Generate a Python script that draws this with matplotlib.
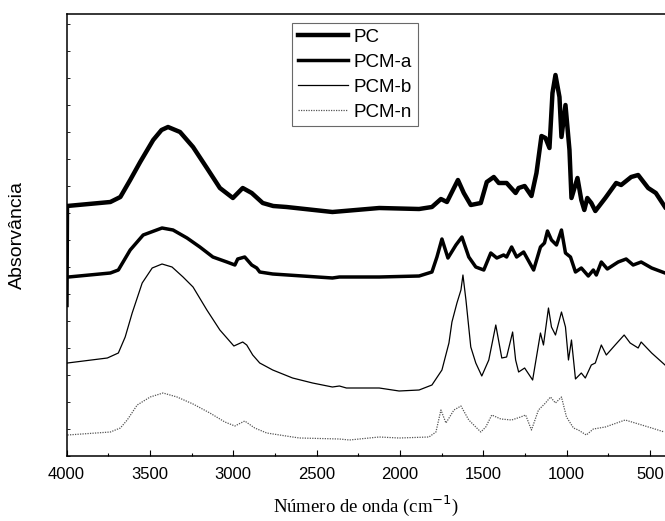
import numpy as np
import matplotlib
matplotlib.use("Agg")
import matplotlib.pyplot as plt
from matplotlib.ticker import MultipleLocator, NullFormatter

# wavenumbers (cm-1) and absorbance (arbitrary units, stacked as in the picture)
pc_wn = [4000, 3997, 3737, 3677, 3618, 3558, 3480, 3430, 3391, 3319, 3241, 3158, 3080, 3002,
         2943, 2889, 2823, 2760, 2680, 2405, 2124, 1885, 1808, 1754, 1718, 1652, 1617, 1575,
         1515, 1479, 1437, 1407, 1360, 1306, 1288, 1252, 1211, 1181, 1151, 1127, 1103,
         1085, 1067, 1043, 1031, 1007, 983, 971, 935, 912, 894, 876, 852, 828, 768, 703,
         673, 613, 571, 511, 465, 410]
pc_abs = [1.51, 2.50, 2.54, 2.59, 2.76, 2.94, 3.16, 3.26, 3.29, 3.24, 3.09, 2.88, 2.68, 2.58,
          2.68, 2.63, 2.53, 2.50, 2.49, 2.44, 2.48, 2.47, 2.49, 2.57, 2.54, 2.76, 2.63, 2.51,
          2.53, 2.74, 2.79, 2.73, 2.73, 2.63, 2.68, 2.70, 2.60, 2.83, 3.20, 3.18, 3.08,
          3.63, 3.81, 3.59, 3.19, 3.51, 3.06, 2.58, 2.78, 2.56, 2.46, 2.58, 2.53, 2.45, 2.58, 2.73,
          2.71, 2.79, 2.81, 2.68, 2.63, 2.49]

pcma_wn = [3988, 3737, 3689, 3618, 3540, 3427, 3361, 3277, 3200, 3122, 3038, 2990, 2973,
           2931, 2889, 2859, 2841, 2763, 2405, 2363, 2124, 1885, 1808, 1778, 1748, 1712,
           1664, 1628, 1587, 1545, 1497, 1455, 1419, 1378, 1360, 1330, 1300, 1258, 1198,
           1157, 1133, 1115, 1091, 1061, 1031, 1007, 977, 947, 912, 870, 840, 822, 792,
           756, 691, 643, 601, 553, 490, 410]
pcma_abs = [1.79, 1.83, 1.86, 2.06, 2.21, 2.28, 2.26, 2.18, 2.09, 1.99, 1.94, 1.91, 1.97,
            1.99, 1.91, 1.88, 1.84, 1.82, 1.78, 1.79, 1.79, 1.80, 1.84, 1.99, 2.17, 1.98,
            2.11, 2.19, 1.99, 1.89, 1.86, 2.03, 1.98, 2.01, 1.99, 2.09, 1.99, 2.04, 1.86,
            2.09, 2.13, 2.25, 2.16, 2.11, 2.26, 2.03, 1.99, 1.84, 1.88, 1.80, 1.86, 1.81, 1.94,
            1.87, 1.94, 1.97, 1.91, 1.94, 1.88, 1.83]

pcmb_wn = [3994, 3755, 3689, 3648, 3606, 3546, 3486, 3427, 3367, 3301, 3241, 3158, 3080,
           2996, 2943, 2919, 2883, 2841, 2763, 2644, 2524, 2405, 2363, 2321, 2124, 2005,
           1885, 1808, 1748, 1706, 1688, 1658, 1634, 1622, 1604, 1575, 1545, 1509, 1467,
           1425, 1389, 1360, 1324, 1306, 1288, 1252, 1204, 1157, 1139, 1109, 1091, 1067,
           1031, 1007, 989, 971, 947, 912, 888, 852, 828, 792, 762, 709, 655, 619, 571,
           553, 490, 410]
pcmb_abs = [0.93, 0.98, 1.03, 1.19, 1.43, 1.73, 1.88, 1.92, 1.89, 1.79, 1.69, 1.46, 1.26,
            1.10, 1.14, 1.11, 1.01, 0.93, 0.86, 0.78, 0.73, 0.69, 0.70, 0.68, 0.68, 0.65,
            0.66, 0.71, 0.86, 1.13, 1.34, 1.53, 1.66, 1.81, 1.56, 1.09, 0.93, 0.80, 0.96,
            1.31, 0.98, 0.99, 1.24, 0.96, 0.84, 0.88, 0.76, 1.23, 1.11, 1.48, 1.29, 1.21,
            1.44, 1.29, 0.96, 1.16, 0.77, 0.83, 0.78, 0.91, 0.93, 1.11, 1.01, 1.11, 1.21, 1.13, 1.08,
            1.14, 1.03, 0.91]

pcmn_wn = [3994, 3737, 3677, 3636, 3576, 3498, 3421, 3337, 3241, 3140, 3050, 2990, 2931,
           2871, 2799, 2644, 2602, 2363, 2303, 2124, 2005, 1826, 1784, 1754, 1724, 1676,
           1634, 1587, 1515, 1485, 1449, 1395, 1330, 1276, 1246, 1211, 1169, 1127, 1097,
           1067, 1031, 1001, 959, 930, 882, 840, 768, 649, 589, 490, 414]
pcmn_abs = [0.21, 0.24, 0.28, 0.36, 0.51, 0.59, 0.63, 0.59, 0.52, 0.43, 0.34, 0.30, 0.35,
            0.28, 0.23, 0.19, 0.18, 0.17, 0.16, 0.19, 0.18, 0.19, 0.24, 0.46, 0.33, 0.46,
            0.50, 0.36, 0.24, 0.29, 0.41, 0.37, 0.36, 0.39, 0.41, 0.26, 0.46, 0.53, 0.59,
            0.53, 0.59, 0.39, 0.28, 0.26, 0.21, 0.27, 0.29, 0.36, 0.33, 0.28, 0.24]

labels = ["PC", "PCM-a", "PCM-b", "PCM-n"]

fig = plt.figure(figsize=(6.65, 5.21), dpi=100)
ax = fig.add_axes([66.5/665, 65/521, 598.5/665, 442/521])

ax.plot(pc_wn, pc_abs, color="black", lw=3.2, label=labels[0])
ax.plot(pcma_wn, pcma_abs, color="black", lw=2.5, label=labels[1])
ax.plot(pcmb_wn, pcmb_abs, color="black", lw=0.9, label=labels[2])
ax.plot(pcmn_wn, pcmn_abs, color="#555555", lw=0.9, ls=(0, (1, 1)), label=labels[3])

ax.set_xlim(4000, 410)
ax.set_ylim(0, 4.42)
ax.xaxis.set_major_locator(MultipleLocator(500))
ax.xaxis.set_minor_locator(MultipleLocator(250))
ax.yaxis.set_major_locator(MultipleLocator(0.27))
ax.yaxis.set_major_formatter(NullFormatter())
ax.tick_params(axis="x", which="major", direction="in", length=4, width=0.8, pad=8)
ax.tick_params(axis="x", which="minor", direction="in", length=2.5, width=0.8)
ax.tick_params(axis="y", which="major", direction="in", length=2, width=0.6)
for lab in ax.get_xticklabels():
    lab.set_fontfamily("Liberation Sans")
    lab.set_fontsize(12)
for s in ["left", "bottom", "top"]:
    ax.spines[s].set_linewidth(1.1)
ax.spines["right"].set_visible(False)

ax.set_xlabel("Número de onda (cm$^{-1}$)", family="Liberation Serif", fontsize=13.5, labelpad=8)
ax.set_ylabel("Absorvância", family="Liberation Sans", fontsize=14, labelpad=26)

leg = ax.legend(loc="upper left", bbox_to_anchor=(292/665, 1 - 23/521),
                bbox_transform=fig.transFigure, prop={"family": "Liberation Sans", "size": 13.5},
                frameon=True, fancybox=False, handlelength=2.7, handletextpad=0.3,
                labelspacing=0.42, borderpad=0.3, borderaxespad=0)
leg.get_frame().set_edgecolor("#444444")
leg.get_frame().set_linewidth(0.8)

fig.savefig("out.png", dpi=100)
